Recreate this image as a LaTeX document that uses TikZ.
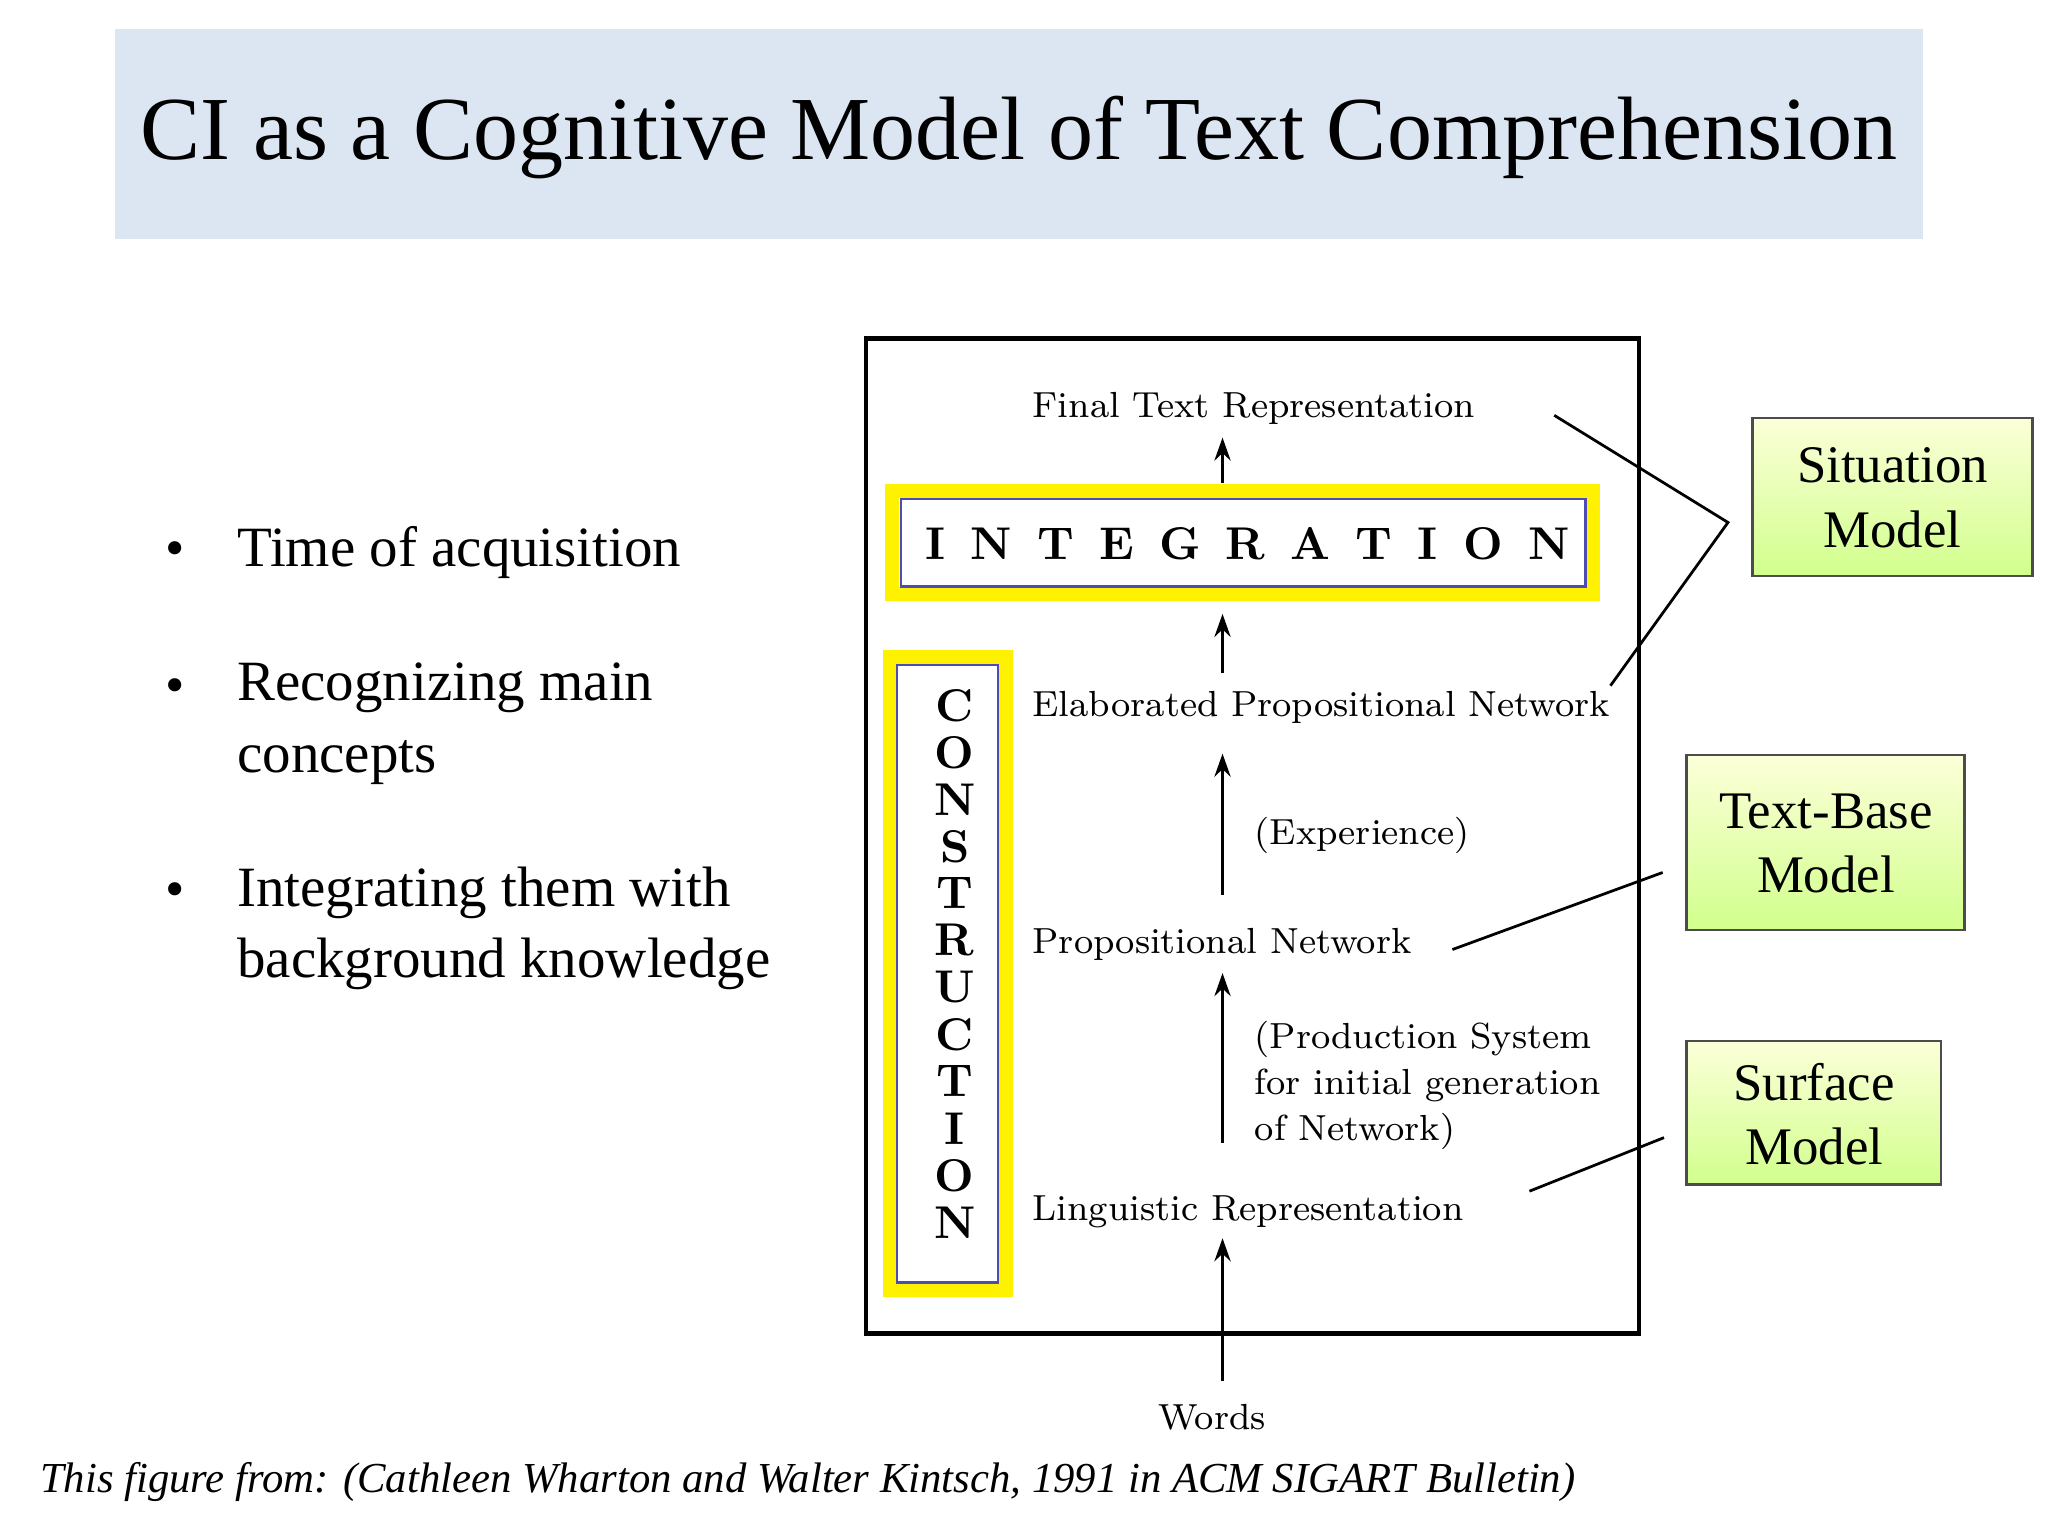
\documentclass[tikz,border=0pt]{standalone}
\usepackage{fontspec}
\newfontfamily\tnr{Liberation Serif}
\usetikzlibrary{arrows.meta}
\definecolor{titlebg}{HTML}{DCE6F2}
\begin{document}
\begin{tikzpicture}[x=0.01cm,y=-0.01cm,
  lab/.style={font=\fontsize{7.9}{10}\selectfont,anchor=west,inner sep=0},
  ar/.style={-{Stealth[length=5pt,width=3.5pt]},line width=0.8pt},
  gbox/.style={draw=black!70,line width=0.6pt,top color=green!8!yellow!15,bottom color=green!40!yellow!45},
  gtxt/.style={font=\tnr\fontsize{11.5}{14}\selectfont,align=center},
  bul/.style={font=\tnr\fontsize{12.4}{15.5}\selectfont,anchor=north west,align=left,inner sep=0}]
\useasboundingbox (0,0) rectangle (1568,1176);
\fill[white] (0,0) rectangle (1568,1176);
\fill[titlebg] (88,22) rectangle (1472,183);
\node[font=\tnr\fontsize{19.6}{22}\selectfont] (title) at (780,105) {CI as a Cognitive Model of Text Comprehension};
% bullets
\foreach \y/\t [count=\i] in {402/Time of acquisition,507/{Recognizing main\\concepts},663/{Integrating them with\\background knowledge}}{
  \node[font=\tnr\fontsize{12}{14}\selectfont,inner sep=0] (b\i) at (134,\y+22) {\textbullet};
  \node[bul] (t\i) at (181,\y) {\t};}
% outer box
\draw[line width=1pt] (663,259) rectangle (1255,1021);
\node[lab] (ftr) at (790,313) {Final Text Representation};
\draw[yellow,line width=3pt] (683,376) rectangle (1220,455);
\draw[blue!40!gray,line width=0.5pt] (690,382) rectangle (1214,449);
\node[font=\bfseries\fontsize{10}{12}\selectfont,inner sep=0] (integ) at (955,416) {I\hspace{0.55em}N\hspace{0.55em}T\hspace{0.55em}E\hspace{0.55em}G\hspace{0.55em}R\hspace{0.55em}A\hspace{0.55em}T\hspace{0.55em}I\hspace{0.55em}O\hspace{0.55em}N};
\draw[yellow,line width=3pt] (681,503) rectangle (770,988);
\draw[blue!40!gray,line width=0.5pt] (687,509) rectangle (764,982);
\foreach \l [count=\i] in {C,O,N,S,T,R,U,C,T,I,O,N}{
  \node[font=\bfseries\fontsize{10}{12}\selectfont,inner sep=0] (c\i) at (731,540+\i*36-36) {\l};}
\node[lab] (epn) at (790,542) {Elaborated Propositional Network};
\node[lab] (exp) at (960,640) {(Experience)};
\node[lab] (pn) at (790,723) {Propositional Network};
\node[lab,align=left] (ps) at (960,831) {(Production System\\for initial generation\\of Network)};
\node[lab] (lr) at (790,928) {Linguistic Representation};
\node[font=\fontsize{7.9}{10}\selectfont,inner sep=0] (words) at (928,1085) {Words};
\coordinate (a1) at (936,370); \coordinate (a1e) at (936,335);
\coordinate (a2) at (936,515); \coordinate (a2e) at (936,470);
\coordinate (a3) at (936,685); \coordinate (a3e) at (936,577);
\coordinate (a4) at (936,875); \coordinate (a4e) at (936,745);
\coordinate (a5) at (936,1057); \coordinate (a5e) at (936,948);
\foreach \i in {1,...,5}{\draw[ar] (a\i) -- (a\i e);}
% green boxes
\path[gbox] (1342,320) rectangle (1556,441);
\node[gtxt] (sitt) at (1449,381) {Situation\\Model};
\path[gbox] (1291,578) rectangle (1504,712);
\node[gtxt] (tb) at (1398,646) {Text-Base\\Model};
\path[gbox] (1291,797) rectangle (1486,907);
\node[gtxt] (sm) at (1389,853) {Surface\\Model};
\coordinate (l1) at (1190,318); \coordinate (l2) at (1323,400); \coordinate (l3) at (1233,525);
\draw[line width=0.6pt] (l1) -- (l2) -- (l3);
\coordinate (m1) at (1112,727); \coordinate (m2) at (1273,668);
\draw[line width=0.6pt] (m1) -- (m2);
\coordinate (n1) at (1171,912); \coordinate (n2) at (1274,871);
\draw[line width=0.6pt] (n1) -- (n2);
\node[font=\tnr\itshape\fontsize{9.3}{12}\selectfont,anchor=west,inner sep=0] (foot) at (30,1135) {This figure from: (Cathleen Wharton and Walter Kintsch, 1991 in ACM SIGART Bulletin)};
\end{tikzpicture}
\end{document}
